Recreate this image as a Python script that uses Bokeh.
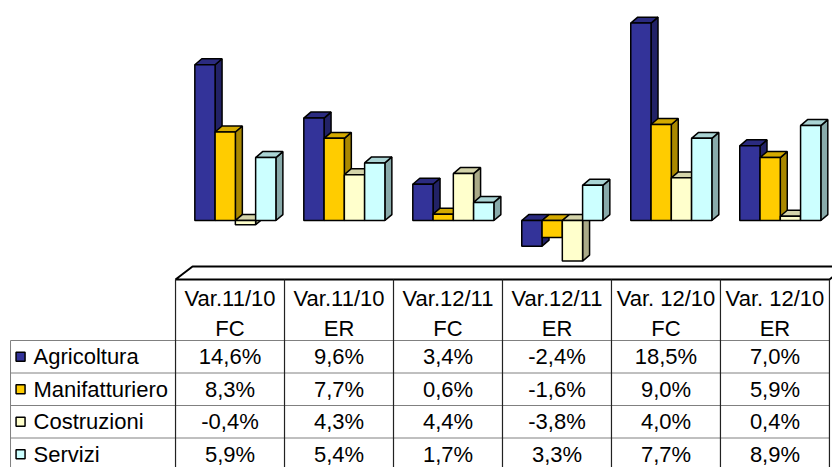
from bokeh.plotting import figure
from bokeh.layouts import column
from bokeh.models import Range1d
from bokeh.core.properties import value
from bokeh.embed import file_html
from bokeh.resources import INLINE

# ---------------- data ----------------
series = ["Agricoltura", "Manifatturiero", "Costruzioni", "Servizi"]
cat_line1 = ["Var.11/10", "Var.11/10", "Var.12/11", "Var.12/11", "Var. 12/10", "Var. 12/10"]
cat_line2 = ["FC", "ER", "FC", "ER", "FC", "ER"]
agricoltura = [14.6, 9.6, 3.4, -2.4, 18.5, 7.0]
manifatturiero = [8.3, 7.7, 0.6, -1.6, 9.0, 5.9]
costruzioni = [-0.4, 4.3, 4.4, -3.8, 4.0, 0.4]
servizi = [5.9, 5.4, 1.7, 3.3, 7.7, 8.9]

values = [agricoltura, manifatturiero, costruzioni, servizi]
front_colors = ["#333399", "#FFCC00", "#FFFFCC", "#CCFFFF"]
top_colors = ["#2B2B80", "#D4AA00", "#D4D4AA", "#AAD4D4"]
side_colors = ["#222266", "#AA8800", "#AAAA88", "#88AAAA"]

FONT = "Liberation Sans"
FS = "22px"

# ---------------- layout constants ----------------
W = 832
x_rng = Range1d(-1.606, 6.028)     # column units: column i spans [i, i+1]
GROUP_OFF = 0.177
BAR_W = 0.186
DX = 0.064                          # 3D depth, column units
DY = 0.56                           # 3D depth, % units

# ---------------- chart (3D bars) ----------------
p1 = figure(width=W, height=264, x_range=x_rng, y_range=Range1d(-4.12, 20.62),
            output_backend="svg", toolbar_location=None, min_border=0)
p1.axis.visible = False
p1.grid.visible = False
p1.outline_line_color = None

for k, (vals, fc, tc, sc) in enumerate(zip(values, front_colors, top_colors, side_colors)):
    x0s, x1s, los, his = [], [], [], []
    side_xs, side_ys, top_xs, top_ys = [], [], [], []
    for g, v in enumerate(vals):
        x0 = g + GROUP_OFF + k * BAR_W
        x1 = x0 + BAR_W
        lo, hi = min(v, 0), max(v, 0)
        x0s.append(x0); x1s.append(x1); los.append(lo); his.append(hi)
        side_xs.append([x1, x1 + DX, x1 + DX, x1])
        side_ys.append([lo, lo + DY, hi + DY, hi])
        top_xs.append([x0, x1, x1 + DX, x0 + DX])
        top_ys.append([hi, hi, hi + DY, hi + DY])
    p1.patches(side_xs, side_ys, fill_color=sc, line_color="black", line_width=1.5)
    p1.patches(top_xs, top_ys, fill_color=tc, line_color="black", line_width=1.5)
    p1.quad(left=x0s, right=x1s, bottom=los, top=his, fill_color=fc,
            line_color="black", line_width=1.5)

# ---------------- data table ----------------
p2 = figure(width=W, height=203, x_range=x_rng, y_range=Range1d(467, 264),
            output_backend="svg", toolbar_location=None, min_border=0)
p2.axis.visible = False
p2.grid.visible = False
p2.outline_line_color = None

ncol = len(cat_line1)
FLOOR_BOT, FLOOR_TOP = 279, 266
FLOOR_SHIFT = 0.156
p2.patch([0, FLOOR_SHIFT, ncol + FLOOR_SHIFT, ncol], [FLOOR_BOT, FLOOR_TOP, FLOOR_TOP, FLOOR_BOT],
         fill_color="white", line_color="black", line_width=2)

HEAD_BOT = 340
ROW_H = 32.5
LABEL_LEFT = -1.514
row_tops = [HEAD_BOT + i * ROW_H for i in range(len(series))]

# horizontal lines
p2.segment(x0=[LABEL_LEFT] * len(row_tops), x1=[ncol] * len(row_tops),
           y0=row_tops, y1=row_tops, line_color="#808080", line_width=1)
# label column left border
p2.segment(x0=[LABEL_LEFT], x1=[LABEL_LEFT], y0=[HEAD_BOT], y1=[470],
           line_color="#808080", line_width=1)
# vertical column lines
p2.segment(x0=list(range(ncol + 1)), x1=list(range(ncol + 1)),
           y0=[FLOOR_BOT] * (ncol + 1), y1=[470] * (ncol + 1),
           line_color="#222222", line_width=1.2)

centers = [i + 0.5 for i in range(ncol)]
p2.text(x=centers, y=[298] * ncol, text=cat_line1, text_align="center",
        text_baseline="middle", text_font=value(FONT), text_font_size=FS, text_color="black")
p2.text(x=centers, y=[328] * ncol, text=cat_line2, text_align="center",
        text_baseline="middle", text_font=value(FONT), text_font_size=FS, text_color="black")

row_centers = [HEAD_BOT + (i + 0.5) * ROW_H for i in range(len(series))]
p2.scatter(x=[-1.422] * len(series), y=row_centers, marker="square", size=9,
           fill_color=front_colors, line_color="black", line_width=1.5)
p2.text(x=[-1.303] * len(series), y=row_centers, text=series, text_align="left",
        text_baseline="middle", text_font=value(FONT), text_font_size=FS, text_color="black")

for k, vals in enumerate(values):
    labels = [f"{v:.1f}%".replace(".", ",") for v in vals]
    p2.text(x=centers, y=[row_centers[k]] * ncol, text=labels, text_align="center",
            text_baseline="middle", text_font=value(FONT), text_font_size=FS, text_color="black")

layout = column(p1, p2, spacing=0)
open("out.html", "w").write(file_html(layout, INLINE))
